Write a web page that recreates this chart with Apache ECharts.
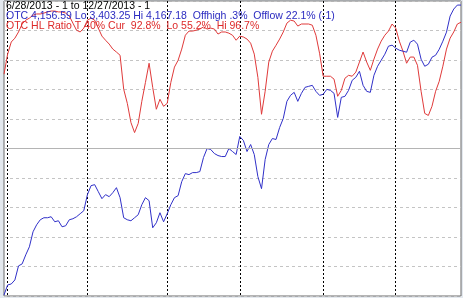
<!DOCTYPE html>
<html>
<head>
<meta charset="utf-8">
<script src="https://cdn.jsdelivr.net/npm/echarts@6/dist/echarts.min.js"></script>
<style>
html,body{margin:0;padding:0;background:#e4e9ef;}
#c{width:463px;height:298px;}
</style>
</head>
<body>
<div id="c"></div>
<script>
// Trading-day categories 6/28/2013 .. 12/27/2013 (weekdays minus market holidays)
const holidays = ['7/4/2013', '9/2/2013', '11/28/2013', '12/25/2013'];
const categories = (function () {
  const out = [];
  const d = new Date(2013, 5, 28);
  const end = new Date(2013, 11, 27);
  while (d <= end) {
    const s = (d.getMonth() + 1) + '/' + d.getDate() + '/' + d.getFullYear();
    const wd = d.getDay();
    if (wd !== 0 && wd !== 6 && holidays.indexOf(s) < 0) out.push(s);
    d.setDate(d.getDate() + 1);
  }
  return out;
})();

// OTC (Nasdaq composite) closes
const otcValues = [
  3405.8, 3431.8, 3434.4, 3444.8, 3481.2, 3486.4, 3509.8, 3530.6, 3569.5, 3587.7,
  3600.7, 3605.9, 3605.9, 3608.5, 3595.5, 3598.1, 3582.5, 3585.1, 3600.7, 3603.3,
  3608.5, 3616.3, 3624.1, 3665.7, 3689.0, 3691.6, 3673.4, 3655.3, 3665.7, 3660.5,
  3670.8, 3683.8, 3657.9, 3605.9, 3600.7, 3598.1, 3605.9, 3613.7, 3639.7, 3657.9,
  3650.1, 3579.9, 3592.9, 3618.9, 3595.5, 3616.3, 3639.7, 3657.9, 3663.1, 3699.4,
  3720.2, 3717.6, 3722.8, 3722.8, 3725.4, 3761.8, 3785.2, 3782.6, 3772.2, 3767.0,
  3764.4, 3764.4, 3785.2, 3777.4, 3769.6, 3816.3, 3806.0, 3777.4, 3795.5, 3769.6,
  3712.4, 3681.2, 3756.6, 3795.5, 3811.1, 3808.5, 3839.7, 3863.1, 3907.3, 3922.9,
  3930.6, 3907.3, 3928.0, 3943.6, 3946.2, 3948.8, 3933.2, 3922.9, 3925.5, 3938.4,
  3935.8, 3928.0, 3865.7, 3917.7, 3920.3, 3935.8, 3961.8, 3969.6, 3985.2, 3948.8,
  3933.2, 3930.6, 3974.8, 3998.2, 4013.8, 4029.4, 4050.2, 4052.8, 4045.0, 4039.8,
  4037.2, 4034.6, 4060.5, 4065.7, 4055.4, 4016.4, 3998.2, 4003.4, 4021.6, 4026.8,
  4042.3, 4063.1, 4086.5, 4128.1, 4146.3, 4156.7, 4156.59
];

// OTC High/Low ratio (%), 40-day
const ratioValues = [
  75.2, 82.0, 86.1, 87.4, 89.5, 92.2, 93.5, 94.2, 95.2, 95.6,
  95.6, 95.9, 96.3, 96.6, 96.6, 96.3, 96.3, 95.9, 94.9, 92.5,
  90.1, 89.5, 90.8, 93.5, 94.2, 93.5, 90.8, 88.1, 86.7, 85.4,
  83.7, 82.7, 81.6, 70.1, 65.3, 58.8, 55.4, 58.5, 66.0, 72.4,
  78.9, 70.7, 63.3, 66.7, 64.3, 65.3, 72.4, 77.6, 79.9, 83.7,
  88.4, 89.8, 89.8, 90.1, 90.5, 91.2, 90.5, 90.8, 90.5, 88.8,
  89.5, 89.5, 89.1, 88.4, 86.7, 88.1, 87.8, 87.1, 85.7, 82.0,
  74.1, 61.6, 69.4, 79.3, 83.0, 85.0, 87.1, 89.5, 92.5, 93.5,
  93.2, 91.5, 92.2, 92.2, 92.2, 91.8, 88.4, 82.3, 74.5, 74.5,
  74.5, 73.5, 67.7, 69.7, 73.8, 74.8, 74.5, 75.9, 79.3, 82.7,
  79.3, 76.5, 80.3, 83.7, 86.4, 88.4, 89.8, 92.2, 90.8, 86.4,
  83.0, 78.9, 81.0, 81.0, 78.2, 69.4, 61.9, 61.2, 64.3, 69.4,
  72.8, 77.9, 83.7, 87.4, 89.5, 92.2, 92.8
];

const otcLo = 3403.25;
const otcHi = 4167.18;
const ratioTicks = [0, 100, 10];

const titleLines = [
  '6/28/2013 - 1 to 12/27/2013 - 1',
  'OTC 4,156.59 Lo 3,403.25 Hi 4,167.18  Offhigh .3%  Offlow 22.1% (-1)',
  'OTC HL Ratio T 40% Cur  92.8%  Lo 55.2%  Hi 96.7%'
];
const titleColors = ['#000000', '#2a2ac0', '#dd2a2a'];

function monthOf(s) { return s.split('/')[0]; }

const chart = echarts.init(document.getElementById('c'));
chart.setOption({
  animation: false,
  backgroundColor: 'transparent',
  title: titleLines.map(function (t, i) {
    return {
      text: t, left: 6, top: 1 + i * 10, padding: 0,
      textStyle: { fontFamily: 'Liberation Sans, Arial, sans-serif', fontSize: 10.5, fontWeight: 'normal', color: titleColors[i] }
    };
  }),
  grid: {
    left: 4, right: 2, top: 1, bottom: 2,
    show: true, backgroundColor: '#ffffff', borderColor: '#6a6a6a', borderWidth: 1
  },
  xAxis: {
    type: 'category', data: categories, boundaryGap: false,
    axisLine: { show: false }, axisTick: { show: false }, axisLabel: { show: false },
    splitLine: {
      show: true,
      interval: function (idx, val) {
        return idx > 0 && monthOf(val) !== monthOf(categories[idx - 1]);
      },
      lineStyle: { color: '#000000', width: 1, type: [2, 2] }
    }
  },
  yAxis: [
    {
      type: 'value', min: ratioTicks[0], max: ratioTicks[1], interval: ratioTicks[2],
      axisLine: { show: false }, axisTick: { show: false }, axisLabel: { show: false },
      splitLine: { show: true, lineStyle: { color: '#c4c4c4', width: 1, type: [3, 3] } }
    },
    {
      type: 'value', min: otcLo, max: otcHi, show: false,
      splitLine: { show: false }
    }
  ],
  series: [
    {
      name: 'HL Ratio', type: 'line', yAxisIndex: 0, data: ratioValues,
      showSymbol: false, symbol: 'none',
      lineStyle: { color: '#e03a3a', width: 1 },
      markLine: {
        silent: true, symbol: 'none', label: { show: false },
        lineStyle: { color: '#b4b4b4', type: 'solid', width: 1 },
        data: [{ yAxis: 50 }]
      }
    },
    {
      name: 'OTC', type: 'line', yAxisIndex: 1, data: otcValues,
      showSymbol: false, symbol: 'none',
      lineStyle: { color: '#3030c8', width: 1 }
    }
  ]
});
</script>
</body>
</html>
